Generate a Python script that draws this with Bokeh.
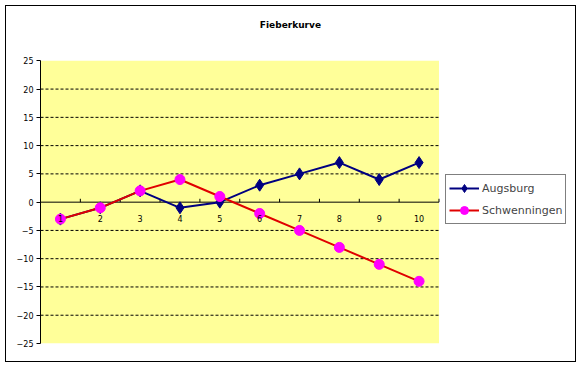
from bokeh.plotting import figure
from bokeh.models import (Range1d, FixedTicker, BoxAnnotation, Legend, LegendItem,
                          ColumnDataSource)
from bokeh.core.properties import value
from bokeh.embed import file_html
from bokeh.resources import INLINE

# ---- data ----
days = [1, 2, 3, 4, 5, 6, 7, 8, 9, 10]
day_labels = ["1", "2", "3", "4", "5", "6", "7", "8", "9", "10"]
augsburg = [-3, -1, 2, -1, 0, 3, 5, 7, 4, 7]
schwenningen = [-3, -1, 2, 4, 1, -2, -5, -8, -11, -14]
y_ticks = [-25, -20, -15, -10, -5, 0, 5, 10, 15, 20, 25]
grid_ticks = [-20, -15, -10, -5, 5, 10, 15, 20]
title_text = "Fieberkurve"

FONT = "DejaVu Sans"

x_lo = days[0] - 0.5
x_hi = days[-1] + 0.5
y_lo = y_ticks[0]
y_hi = y_ticks[-1]

frame_w = 534.0          # pixels of the frame (plot area + legend area)
frame_h = 334.0          # pixels of the frame (plot area + title area)
px_per_x = 39.7          # category spacing in pixels
px_per_y = 5.62          # pixels per degree

p = figure(width=571, height=357, output_backend="svg", toolbar_location=None,
           x_range=Range1d(x_lo, x_lo + frame_w / px_per_x),
           y_range=Range1d(y_lo, y_lo + frame_h / px_per_y),
           min_border_left=34, min_border_right=1, min_border_top=1,
           min_border_bottom=20)
p.styles = {"border": "1px solid black", "margin": "5px 0 0 5px"}
p.background_fill_color = "white"
p.border_fill_color = "white"
p.outline_line_color = None

# yellow plot area
p.add_layout(BoxAnnotation(left=x_lo, right=x_hi, bottom=y_lo, top=y_hi,
                           fill_color="#FFFF99", fill_alpha=1, line_color=None,
                           level="underlay"))

# axes
p.xaxis.visible = False
p.xgrid.visible = False
p.ygrid.visible = False
yax = p.yaxis[0]
yax.bounds = (y_lo, y_hi)
yax.ticker = FixedTicker(ticks=y_ticks)
yax.axis_line_color = "black"
yax.major_tick_line_color = "black"
yax.major_tick_out = 4
yax.major_tick_in = 0
yax.minor_tick_line_color = None
yax.major_label_text_font = FONT
yax.major_label_text_font_size = "8px"
yax.major_label_text_color = "black"
yax.major_label_standoff = 3

# dashed gridlines limited to the plot area
p.segment(x0=[x_lo] * len(grid_ticks), x1=[x_hi] * len(grid_ticks),
          y0=grid_ticks, y1=grid_ticks, line_color="black", line_width=1,
          line_dash="3 2")

# x axis crossing at zero
p.segment(x0=[x_lo], x1=[x_hi], y0=[0], y1=[0], line_color="black", line_width=1)
bounds = [d + 0.5 for d in days]
p.segment(x0=bounds, x1=bounds, y0=[0] * len(bounds), y1=[0.6] * len(bounds),
          line_color="black", line_width=1)

# series
la = p.line(days, augsburg, line_color="#000080", line_width=2)
sa = p.scatter(days, augsburg, marker="diamond", size=12, fill_color="#000080",
               line_color="#000080")
ls = p.line(days, schwenningen, line_color="#E00000", line_width=2)
ss = p.scatter(days, schwenningen, marker="circle", size=10, fill_color="#FF00FF",
               line_color="#FF00FF")

# x tick labels (at the zero line)
src = ColumnDataSource(dict(x=days, y=[0] * len(days), t=day_labels))
p.text(x="x", y="y", text="t", source=src, y_offset=16,
       text_align="center", text_baseline="middle",
       text_font=value(FONT), text_font_size="8px", text_color="black")

# chart title, above the plot area
title_x = x_lo + (289 - 40) / px_per_x
title_y = y_hi + 36 / px_per_y
p.text(x=[title_x], y=[title_y], text=[title_text], text_align="center",
       text_baseline="middle", text_font=value(FONT), text_font_size="9px",
       text_font_style="bold", text_color="black")

legend = Legend(items=[LegendItem(label="Augsburg", renderers=[la, sa]),
                       LegendItem(label="Schwenningen", renderers=[ls, ss])],
                location=(405, 119), margin=0, padding=3, spacing=2,
                glyph_width=30, glyph_height=20, label_height=20,
                label_standoff=3, label_text_font=FONT,
                label_text_font_size="11px", border_line_color="black",
                border_line_width=1, background_fill_color="white",
                background_fill_alpha=1)
p.add_layout(legend, "center")

open("out.html", "w").write(file_html(p, INLINE))
